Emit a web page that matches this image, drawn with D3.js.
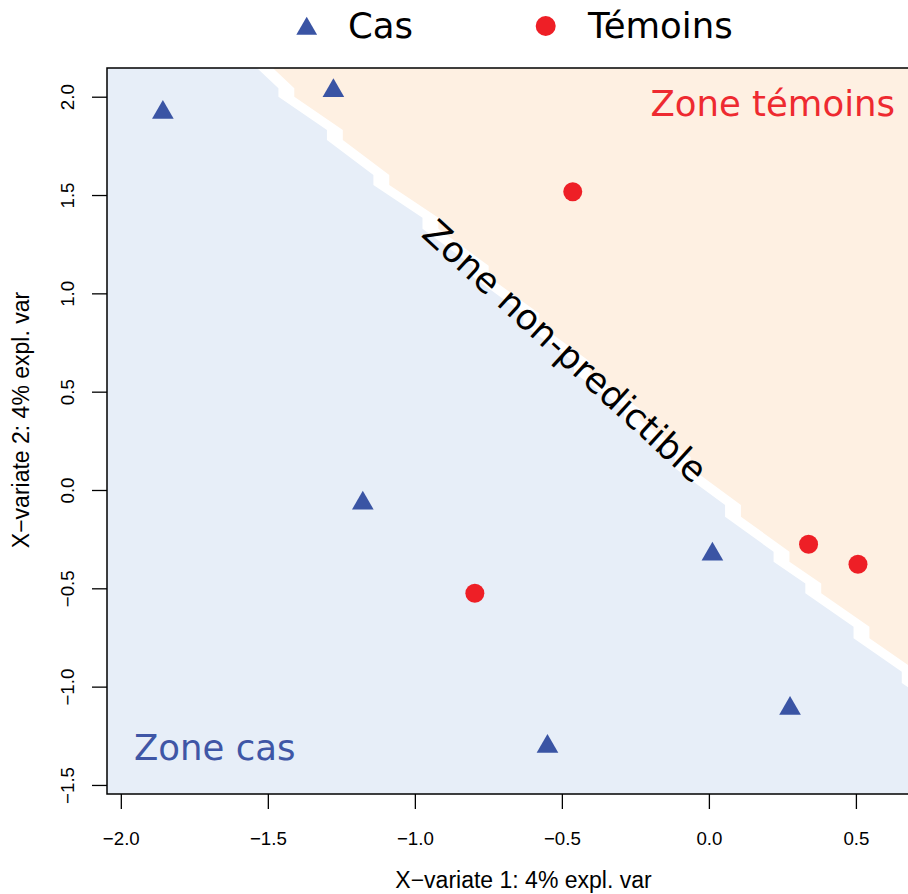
<!DOCTYPE html>
<html>
<head>
<meta charset="utf-8">
<script src="https://cdn.jsdelivr.net/npm/d3@7"></script>
<style>
  html, body { margin: 0; padding: 0; background: #ffffff; }
  svg { display: block; }
</style>
</head>
<body>
<svg id="chart" width="908" height="894"></svg>
<script>
// ---------------- data ----------------
const groups = ["Cas", "Témoins"];
const casX = [-1.857, -1.277, -1.177, 0.012, -0.549, 0.276];
const casY = [1.920, 2.030, -0.067, -0.327, -1.305, -1.111];
const temX = [-0.463, -0.796, 0.339, 0.507];
const temY = [1.517, -0.525, -0.276, -0.378];
const xTicks = [-2.0, -1.5, -1.0, -0.5, 0.0, 0.5];
const yTicks = [-1.5, -1.0, -0.5, 0.0, 0.5, 1.0, 1.5, 2.0];
// decision boundary (edge of the "cas" zone), data units
const bandX = [-1.560, -1.537, -1.464, -1.464, -1.299, -1.299, -1.141, -1.141, -0.974, -0.974,
               -0.803, -0.803, -0.631, -0.631, -0.459, -0.459, -0.288, -0.288, -0.116, -0.116,
               0.055, 0.055, 0.220, 0.220, 0.328, 0.328, 0.492, 0.492, 0.656, 0.656, 0.821];
const bandY = [2.197, 2.146, 2.043, 2.000, 1.831, 1.780, 1.602, 1.551, 1.384, 1.328,
               1.140, 1.084, 0.897, 0.841, 0.654, 0.598, 0.411, 0.355, 0.168, 0.112,
               -0.076, -0.136, -0.314, -0.365, -0.475, -0.525, -0.695, -0.754, -0.924, -0.982, -1.150];
const bandGap = 0.054;
const xLabel = "X\u2212variate 1: 4% expl. var";
const yLabel = "X\u2212variate 2: 4% expl. var";
const zoneLabels = ["Zone cas", "Zone témoins", "Zone non-predictible"];

// ---------------- layout ----------------
const svg = d3.select("#chart");
const L = 107, R = 940, T = 68, B = 794;
const x = d3.scaleLinear().domain([-2.047, 0.786]).range([L, R]);
const y = d3.scaleLinear().domain([-1.546, 2.146]).range([B, T]);

const colBlueZone = "#E7EEF8", colOrangeZone = "#FEF0E2";
const colCas = "#3A54A4", colTem = "#EE1F26";
const bigFont = 35.5;

svg.append("defs").append("clipPath").attr("id", "plotclip")
  .append("rect").attr("x", L).attr("y", T).attr("width", R - L).attr("height", B - T);

const g = svg.append("g").attr("clip-path", "url(#plotclip)");
g.append("rect").attr("x", L).attr("y", T).attr("width", R - L).attr("height", B - T).attr("fill", "#ffffff");

const edge = bandX.map((v, i) => [v, bandY[i]]);
const big = 10;
const bluePoly = edge.concat([[bandX[bandX.length - 1], -big], [-big, -big], [-big, big], [bandX[0], big]]);
const orangePoly = edge.map(p => [p[0] + bandGap, p[1]])
  .concat([[big, bandY[bandY.length - 1]], [big, big], [bandX[0] + bandGap, big]]);
const line = d3.line().x(d => x(d[0])).y(d => y(d[1]));
g.append("path").attr("d", line(bluePoly) + "Z").attr("fill", colBlueZone);
g.append("path").attr("d", line(orangePoly) + "Z").attr("fill", colOrangeZone);

// zone labels
g.append("text").attr("x", x(-1.955)).attr("y", y(-1.374))
  .attr("font-family", "DejaVu Sans").attr("font-size", bigFont).attr("fill", "#3F56A6")
  .text(zoneLabels[0]);
g.append("text").attr("x", x(0.633)).attr("y", y(1.901)).attr("text-anchor", "end")
  .attr("font-family", "DejaVu Sans").attr("font-size", bigFont).attr("fill", "#EE2A30")
  .text(zoneLabels[1]);
g.append("text")
  .attr("transform", `translate(${x(-0.489)},${y(0.707)}) rotate(42.4)`)
  .attr("text-anchor", "middle").attr("dominant-baseline", "central")
  .attr("font-family", "DejaVu Sans").attr("font-size", bigFont).attr("fill", "#000000")
  .text(zoneLabels[2]);

// points
const triR = 12.5;
function triPath(cx, cy, r) {
  const hw = r * Math.sqrt(3) / 2;
  return `M${cx},${cy - r}L${cx + hw},${cy + r / 2}L${cx - hw},${cy + r / 2}Z`;
}
g.selectAll("path.cas").data(casX.map((v, i) => [v, casY[i]])).enter().append("path")
  .attr("class", "cas").attr("d", d => triPath(x(d[0]), y(d[1]), triR)).attr("fill", colCas);
g.selectAll("circle.tem").data(temX.map((v, i) => [v, temY[i]])).enter().append("circle")
  .attr("class", "tem").attr("cx", d => x(d[0])).attr("cy", d => y(d[1])).attr("r", 9.5).attr("fill", colTem);

// box
svg.append("rect").attr("x", L).attr("y", T).attr("width", R - L).attr("height", B - T)
  .attr("fill", "none").attr("stroke", "#000").attr("stroke-width", 1.5);

// axes
const fmt = d3.format(".1f");
const xAxis = d3.axisBottom(x).tickValues(xTicks).tickFormat(fmt).tickSize(15).tickSizeOuter(0).tickPadding(23);
const gx = svg.append("g").attr("transform", `translate(0,${B})`).call(xAxis);
gx.select(".domain").remove();
gx.selectAll("line").attr("stroke", "#000").attr("stroke-width", 1.3);
gx.selectAll("text").attr("font-family", "Liberation Sans").attr("font-size", 18.7).attr("fill", "#000");

const yAxis = d3.axisLeft(y).tickValues(yTicks).tickFormat(fmt).tickSize(15).tickSizeOuter(0);
const gy = svg.append("g").attr("transform", `translate(${L},0)`).call(yAxis);
gy.select(".domain").remove();
gy.selectAll("line").attr("stroke", "#000").attr("stroke-width", 1.3);
gy.selectAll("text")
  .attr("x", null).attr("dy", null)
  .attr("transform", "translate(-33,0) rotate(-90)")
  .attr("text-anchor", "middle")
  .attr("font-family", "Liberation Sans").attr("font-size", 18.7).attr("fill", "#000");

// axis titles
svg.append("text").attr("x", (L + R) / 2).attr("y", 888).attr("text-anchor", "middle")
  .attr("font-family", "Liberation Sans").attr("font-size", 23).attr("fill", "#000").text(xLabel);
svg.append("text").attr("transform", `translate(29,${(T + B) / 2 - 11}) rotate(-90)`).attr("text-anchor", "middle")
  .attr("font-family", "Liberation Sans").attr("font-size", 23).attr("fill", "#000").text(yLabel);

// legend
const lg = svg.append("g");
lg.append("path").attr("d", triPath(306.7, 28.7, 12)).attr("fill", colCas);
lg.append("text").attr("x", 348).attr("y", 37.5).attr("font-family", "DejaVu Sans").attr("font-size", bigFont)
  .attr("fill", "#000").text(groups[0]);
lg.append("circle").attr("cx", 545.7).attr("cy", 26).attr("r", 10).attr("fill", colTem);
lg.append("text").attr("x", 588).attr("y", 37.5).attr("font-family", "DejaVu Sans").attr("font-size", bigFont)
  .attr("fill", "#000").text(groups[1]);
</script>
</body>
</html>
